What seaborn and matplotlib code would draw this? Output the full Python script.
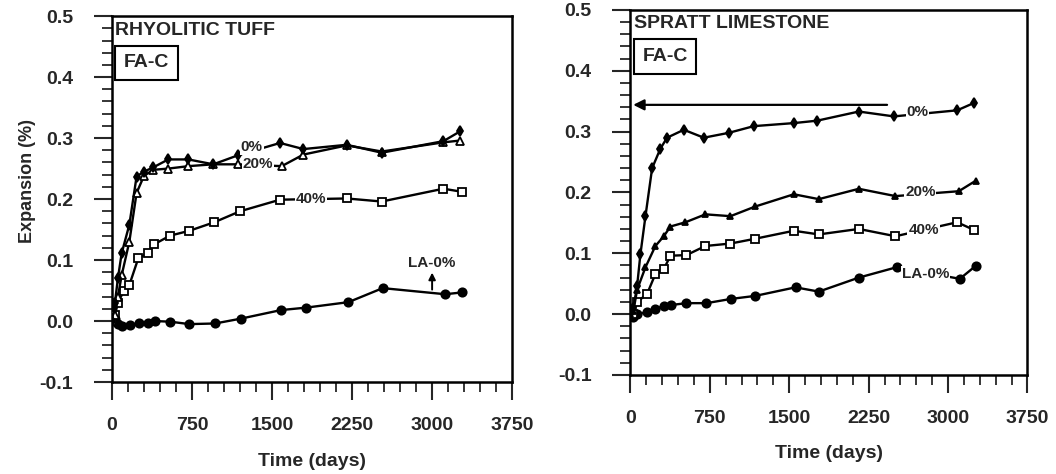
import matplotlib
matplotlib.use("Agg")
import matplotlib.pyplot as plt
import seaborn as sns
import pandas as pd
from matplotlib.ticker import MultipleLocator

# ---------------- data ----------------
# Left panel: RHYOLITIC TUFF (FA-C)
rt_0_days = [0, 28, 56, 91, 163, 231, 300, 387, 528, 716, 950, 1184, 1575, 1794, 2200, 2528, 3106, 3262]
rt_0_vals = [0.0, 0.03, 0.07, 0.111, 0.158, 0.237, 0.245, 0.252, 0.265, 0.265, 0.257, 0.272, 0.292, 0.282, 0.289, 0.276, 0.295, 0.311]
rt_20_days = [0, 28, 56, 91, 163, 231, 300, 387, 528, 716, 950, 1184, 1591, 1794, 2200, 2528, 3106, 3262]
rt_20_vals = [0.0, 0.01, 0.04, 0.075, 0.13, 0.21, 0.238, 0.248, 0.25, 0.254, 0.257, 0.257, 0.254, 0.273, 0.288, 0.278, 0.293, 0.296]
rt_40_days = [0, 28, 56, 112, 163, 247, 334, 397, 544, 725, 959, 1200, 1575, 2200, 2528, 3106, 3278]
rt_40_vals = [0.0, 0.01, 0.03, 0.05, 0.059, 0.103, 0.111, 0.126, 0.140, 0.148, 0.162, 0.180, 0.199, 0.201, 0.196, 0.217, 0.212]
rt_la_days = [0, 28, 56, 91, 169, 256, 334, 403, 544, 725, 966, 1209, 1584, 1819, 2216, 2537, 3122, 3284]
rt_la_vals = [0.0, 0.003, -0.005, -0.008, -0.007, -0.003, -0.004, 0.0, -0.001, -0.005, -0.004, 0.004, 0.018, 0.022, 0.031, 0.054, 0.044, 0.047]

# Right panel: SPRATT LIMESTONE (FA-C)
sl_0_days = [0, 28, 63, 94, 142, 205, 283, 346, 504, 693, 929, 1165, 1543, 1764, 2157, 2488, 3086, 3243]
sl_0_vals = [0.0, 0.01, 0.046, 0.098, 0.161, 0.24, 0.272, 0.29, 0.303, 0.29, 0.298, 0.309, 0.314, 0.318, 0.333, 0.325, 0.335, 0.347]
sl_20_days = [0, 28, 63, 142, 236, 315, 378, 520, 708, 945, 1181, 1543, 1779, 2157, 2503, 3101, 3259]
sl_20_vals = [0.0, 0.005, 0.04, 0.077, 0.112, 0.128, 0.144, 0.151, 0.164, 0.161, 0.177, 0.197, 0.189, 0.206, 0.194, 0.202, 0.219]
sl_40_days = [0, 28, 63, 157, 236, 315, 378, 529, 708, 945, 1181, 1543, 1779, 2157, 2503, 3086, 3249]
sl_40_vals = [0.0, 0.0, 0.02, 0.033, 0.066, 0.074, 0.096, 0.097, 0.112, 0.116, 0.124, 0.137, 0.131, 0.140, 0.128, 0.151, 0.138]
sl_la_days = [0, 28, 63, 157, 236, 315, 387, 529, 718, 951, 1181, 1559, 1779, 2157, 2513, 3111, 3259]
sl_la_vals = [0.0, -0.005, 0.0, 0.003, 0.009, 0.013, 0.015, 0.018, 0.018, 0.025, 0.030, 0.044, 0.037, 0.060, 0.077, 0.058, 0.079]

x_ticks = [0, 750, 1500, 2250, 3000, 3750]
y_ticks = [-0.1, 0.0, 0.1, 0.2, 0.3, 0.4, 0.5]
panel_titles = ["RHYOLITIC TUFF", "SPRATT LIMESTONE"]
box_label = "FA-C"
x_label = "Time (days)"
y_label = "Expansion (%)"

# ---------------- style ----------------
sns.set_style("white")
plt.rcParams["font.family"] = ["Liberation Sans", "DejaVu Sans"]
plt.rcParams["font.weight"] = "bold"

fig = plt.figure(figsize=(10.56, 4.74), dpi=100)
axL = fig.add_axes([0.106, 0.194, 0.379, 0.772])
axR = fig.add_axes([0.597, 0.209, 0.376, 0.770])

LW = 1.7


def draw(ax, days, vals, marker, face, ms):
    df = pd.DataFrame({"days": days, "val": vals})
    sns.lineplot(data=df, x="days", y="val", ax=ax, color="black", lw=LW,
                 marker=marker, markersize=ms, markerfacecolor=face,
                 markeredgecolor="black", markeredgewidth=1.3,
                 estimator=None, sort=False, zorder=3)


def label(ax, x, y, s):
    ax.text(x, y, s, ha="center", va="center", fontsize=11, fontweight="bold",
            zorder=5, bbox=dict(facecolor="white", edgecolor="none", pad=0.5))


def style_axes(ax, title, xlab_y, ylabel):
    ax.set_xlim(0, 3750)
    ax.set_ylim(-0.1, 0.5)
    ax.set_xticks(x_ticks)
    ax.set_yticks(y_ticks)
    ax.set_yticklabels([f"{t:.1f}" for t in y_ticks])
    ax.xaxis.set_minor_locator(MultipleLocator(150))
    ax.yaxis.set_minor_locator(MultipleLocator(0.02))
    ax.tick_params(axis="both", which="major", direction="out", length=13, width=1.5,
                   labelsize=14, bottom=True, left=True, top=False, right=False)
    ax.tick_params(axis="both", which="minor", direction="out", length=7, width=1.3,
                   bottom=True, left=True, top=False, right=False)
    ax.tick_params(axis="y", which="major", pad=15)
    ax.tick_params(axis="x", which="major", pad=12)
    for lab in ax.get_xticklabels() + ax.get_yticklabels():
        lab.set_fontweight("bold")
    for sp in ax.spines.values():
        sp.set_visible(True)
        sp.set_color("black")
        sp.set_linewidth(1.8)
    ax.set_xlabel(x_label, fontsize=14, fontweight="bold")
    ax.xaxis.set_label_coords(0.5, xlab_y)
    if ylabel:
        ax.set_ylabel(y_label, fontsize=13, fontweight="bold")
        ax.yaxis.set_label_coords(-0.19, 0.55)
    else:
        ax.set_ylabel("")
    ax.text(0.008, 0.962, title, transform=ax.transAxes, ha="left", va="center",
            fontsize=14, fontweight="bold")
    ax.text(0.03, 0.872, box_label, transform=ax.transAxes, ha="left", va="center",
            fontsize=14, fontweight="bold",
            bbox=dict(boxstyle="square,pad=0.45", facecolor="white",
                      edgecolor="black", linewidth=1.5))


# ---------------- left panel ----------------
draw(axL, rt_la_days, rt_la_vals, "o", "black", 6)
draw(axL, rt_40_days, rt_40_vals, "s", "white", 6)
draw(axL, rt_20_days, rt_20_vals, "^", "white", 6)
draw(axL, rt_0_days, rt_0_vals, "d", "black", 5)
label(axL, 1310, 0.285, "0%")
label(axL, 1370, 0.257, "20%")
label(axL, 1866, 0.200, "40%")
axL.text(3000, 0.095, "LA-0%", ha="center", va="center", fontsize=11, fontweight="bold")
axL.annotate("", xy=(3000, 0.084), xytext=(3000, 0.047),
             arrowprops=dict(arrowstyle="-|>", color="black", lw=1.4, mutation_scale=10))
style_axes(axL, panel_titles[0], -0.194, True)

# ---------------- right panel ----------------
draw(axR, sl_la_days, sl_la_vals, "o", "black", 6)
draw(axR, sl_40_days, sl_40_vals, "s", "white", 6)
draw(axR, sl_20_days, sl_20_vals, "^", "black", 5)
draw(axR, sl_0_days, sl_0_vals, "d", "black", 5)
label(axR, 2711, 0.333, "0%")
label(axR, 2739, 0.200, "20%")
label(axR, 2768, 0.139, "40%")
label(axR, 2787, 0.066, "LA-0%")
axR.annotate("", xy=(0, 0.344), xytext=(2450, 0.344),
             arrowprops=dict(arrowstyle="-|>", color="black", lw=1.6, mutation_scale=16))
style_axes(axR, panel_titles[1], -0.192, False)

fig.savefig("out.png", dpi=100)
